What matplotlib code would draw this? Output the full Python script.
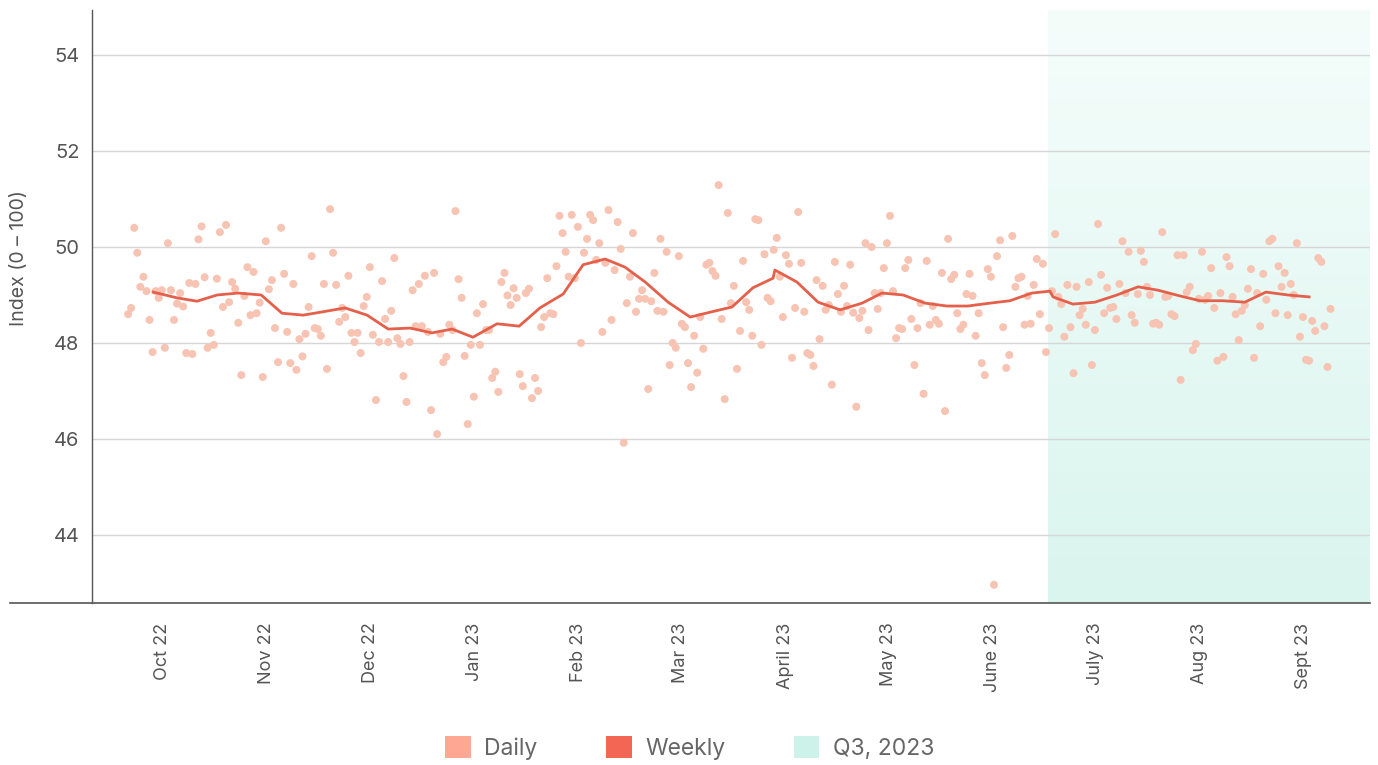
import numpy as np
import matplotlib
matplotlib.use('Agg')
import matplotlib.pyplot as plt
from matplotlib.patches import Patch
from matplotlib.colors import to_rgb
from matplotlib.lines import Line2D

plt.rcParams['font.family'] = ['Inter', 'DejaVu Sans']

# daily index values, one per observation, left to right
daily = [
    48.6, 48.73, 50.4, 49.88, 49.17, 49.38, 49.08, 48.48, 47.81, 49.08, 48.94, 49.1, 47.9, 50.08, 49.1,
    48.48, 48.82, 49.04, 48.76, 47.79, 49.25, 47.77, 49.23, 50.16, 50.43, 49.37, 47.9, 48.21, 47.96, 49.34,
    50.31, 48.75, 50.46, 48.85, 49.27, 49.13, 48.42, 47.33, 48.98, 49.58, 48.58, 49.48, 48.62, 48.84, 47.29,
    50.12, 49.12, 49.31, 48.31, 47.6,
    50.40, 49.44, 48.23, 47.58, 49.23, 47.44, 48.08, 47.72, 48.19, 48.75, 49.81, 48.31, 48.29, 48.15, 49.23,
    47.46, 50.79, 49.88, 49.21, 48.44, 48.73, 48.54, 49.40, 48.21, 48.02, 48.21, 47.79, 48.77, 48.96, 49.58,
    48.17, 46.81, 48.02, 49.29, 48.50, 48.02, 48.67, 49.77, 48.10, 47.98, 47.31, 46.77, 48.02, 49.10, 48.35,
    49.23, 48.35, 49.40, 48.23, 46.60, 49.46,
    46.10, 48.19, 47.60, 47.71, 48.38, 48.27, 50.75, 49.33, 48.94, 47.73, 46.31, 47.96, 46.88, 48.62, 47.96,
    48.81, 48.27, 48.27, 47.27, 47.40, 46.98, 49.27, 49.46, 48.99, 48.79, 49.14, 48.94, 47.35, 47.10, 49.04,
    49.13, 46.85, 47.27, 47.00, 48.33, 48.54, 49.35, 48.62, 48.60, 49.60, 50.65, 50.29, 49.90, 49.38, 50.67,
    49.35, 50.42, 48.0, 49.88,
    50.17, 50.67, 50.56, 49.73, 50.08, 48.23, 49.67, 50.77, 48.48, 49.52, 50.52, 49.96, 45.92, 48.83, 49.38,
    50.29, 48.65, 48.92, 49.10, 48.92, 47.04, 48.87, 49.46, 48.67, 50.17, 48.65, 49.90, 47.54, 48.0, 47.9,
    49.81, 48.40, 48.33, 47.58, 47.08, 48.15, 47.38, 48.54, 47.88, 49.63, 49.67, 49.50, 49.40, 51.29, 48.50,
    46.83, 50.71, 48.83, 49.19, 47.46, 48.25,
    49.71, 48.85, 48.69, 48.15, 50.58, 50.56, 47.96, 49.85, 48.94, 48.87, 49.94, 50.19, 49.38, 48.54, 49.83,
    49.65, 47.69, 48.73, 50.73, 49.67, 48.65, 47.79, 47.75, 47.52, 49.31, 48.08, 49.19, 48.69, 48.79, 47.13,
    49.69, 49.02, 48.65, 49.19, 48.77, 49.63, 48.63, 46.67, 48.52, 48.67, 50.08, 48.27, 50.0, 49.04, 48.71,
    49.04, 49.56, 50.08, 50.65, 49.08, 48.1,
    48.31, 48.29, 49.56, 49.73, 48.50, 47.54, 48.31, 48.83, 46.94, 49.71, 48.38, 48.77, 48.48, 48.40, 49.46,
    46.58, 50.17, 49.33, 49.42, 48.62, 48.29, 48.38, 49.02, 49.44, 48.98, 48.15, 48.62, 47.58, 47.33, 49.54,
    49.38, 42.96, 49.81, 50.14, 48.33, 47.48, 47.75, 50.23, 49.17, 49.35, 49.38, 48.38, 48.98, 48.40, 49.21,
    49.75, 48.60, 49.65, 47.81, 48.31,
    49.08, 50.27, 48.96, 48.81, 48.13, 49.21, 48.33, 47.37, 49.17, 48.58, 48.71, 48.38, 49.27, 47.54, 48.27,
    50.48, 49.42, 48.62, 49.15, 48.73, 48.75, 48.50, 49.23, 50.12, 49.04, 49.90, 48.58, 48.42, 49.02, 49.92,
    49.69, 49.17, 49.0, 48.40, 48.42, 48.38, 50.31, 48.96, 48.98, 48.60, 48.56, 49.83, 47.23, 49.83, 49.06,
    49.17, 47.85, 47.98, 48.92, 49.90,
    48.90, 48.98, 49.56, 48.73, 47.63, 49.04, 47.71, 49.79, 49.60, 48.96, 48.60, 48.06, 48.67, 48.79, 49.13,
    49.54, 47.69, 49.04, 48.35, 49.44, 48.90, 50.12, 50.17, 48.62, 49.60, 49.17, 49.46, 48.58, 49.23, 49.0,
    50.08, 48.13, 48.54, 47.65, 47.63, 48.46, 48.25, 49.77, 49.69, 48.35, 47.50, 48.71,
]

# weekly line: position (in daily steps) and value
weekly_x = [8.2, 16.0, 22.5, 29.1, 35.9, 43.5, 50.3, 57.2, 63.7, 70.9, 78.1, 85.0, 92.2, 99.3, 105.9,
            112.7, 120.6, 127.8, 134.6, 142.2, 148.7, 155.9, 162.4, 169.0, 176.5, 183.7, 190.8, 197.4,
            204.2, 210.8, 211.4, 218.6, 225.5, 232.7, 239.9, 246.4, 253.3, 260.5, 267.6, 274.5, 281.7,
            288.2, 295.4, 301.3, 302.3, 308.8, 316.0, 323.2, 330.1, 336.6, 343.8, 350.3, 357.8, 365.0,
            371.9, 379.1, 386.0]
weekly = [49.06, 48.94, 48.87, 49.0, 49.04, 49.0, 48.62, 48.58, 48.65, 48.73, 48.58, 48.29, 48.31, 48.21,
          48.29, 48.12, 48.40, 48.35, 48.73, 49.02, 49.63, 49.75, 49.58, 49.27, 48.85, 48.54, 48.65, 48.75,
          49.15, 49.35, 49.52, 49.27, 48.85, 48.69, 48.83, 49.04, 49.0, 48.83, 48.77, 48.77, 48.83, 48.88,
          49.04, 49.08, 48.96, 48.81, 48.85, 49.0, 49.17, 49.10, 48.98, 48.88, 48.88, 48.85, 49.06, 49.0,
          48.96]

tick_pos = [11.4, 45.1, 79.1, 113.1, 147.1, 180.7, 214.7, 248.4, 282.4, 316.3, 350.3, 384.3]
tick_labels = ['Oct 22', 'Nov 22', 'Dec 22', 'Jan 23', 'Feb 23', 'Mar 23', 'April 23', 'May 23',
               'June 23', 'July 23', 'Aug 23', 'Sept 23']
q3_start = 300.7

x_min, x_max = -11.8, 405.9
y_min, y_max = 42.58, 54.94

grey = '#555555'

fig = plt.figure(figsize=(13.78, 7.65), dpi=100)
ax = fig.add_axes([92 / 1378, 1 - 603 / 765, (1370 - 92) / 1378, (603 - 10) / 765])

# Q3 shading, faint at top and stronger at bottom
c_top = np.array(to_rgb('#f5fdfb'))
c_bot = np.array(to_rgb('#daf5ee'))
t = np.linspace(0, 1, 256)[:, None]
grad = (c_top * (1 - t) + c_bot * t)[:, None, :]
ax.imshow(grad, extent=[q3_start, x_max, y_min, y_max], origin='upper', aspect='auto', zorder=0)

ax.set_yticks([44, 46, 48, 50, 52, 54])
ax.grid(axis='y', color='#d6d6d6', linewidth=1)
ax.set_axisbelow(True)

xs = np.arange(len(daily))
ax.scatter(xs, daily, s=33, color='#f7c3b2', edgecolors='none', zorder=2)
ax.plot(weekly_x, weekly, color='#e4604a', linewidth=2.0, zorder=3)

ax.set_xlim(x_min, x_max)
ax.set_ylim(y_min, y_max)
ax.set_xticks(tick_pos)
ax.set_xticklabels(tick_labels, rotation=90)
ax.tick_params(axis='x', length=0, pad=14, labelsize=13, colors=grey)
ax.tick_params(axis='y', length=0, pad=9, labelsize=14.5, colors=grey)

for s in ['top', 'right', 'bottom']:
    ax.spines[s].set_visible(False)
ax.spines['left'].set_color(grey)
ax.spines['left'].set_linewidth(1)

# bottom rule runs past the y axis
fig.add_artist(Line2D([10 / 1378, 1370 / 1378], [1 - 603 / 765] * 2, color=grey, linewidth=1.2))

fig.text(19 / 1378, 1 - 258 / 765, 'Index (0 – 100)', rotation=90, ha='center', va='center',
         fontsize=14, color=grey)

handles = [Patch(facecolor='#fea793', edgecolor='none', label='Daily'),
           Patch(facecolor='#f26653', edgecolor='none', label='Weekly'),
           Patch(facecolor='#ccf2ea', edgecolor='none', label='Q3, 2023')]
leg = fig.legend(handles=handles, loc='center', bbox_to_anchor=(690 / 1378, 1 - 748 / 765), ncol=3,
                 frameon=False, fontsize=16.5, handlelength=1.1, handleheight=1.1, handletextpad=0.6,
                 columnspacing=3.0)
for txt in leg.get_texts():
    txt.set_color('#666666')

plt.savefig('out.png', dpi=100)
